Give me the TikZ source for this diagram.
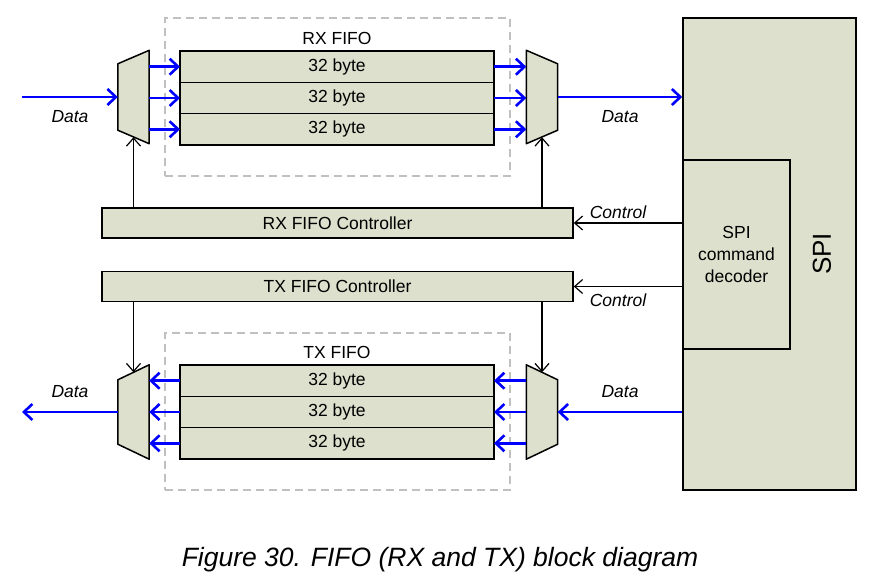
\documentclass[tikz,border=0pt]{standalone}
\usepackage{fontspec}
\setmainfont{Liberation Sans}
\usetikzlibrary{arrows.meta, positioning, calc, backgrounds}
\definecolor{blockfill}{RGB}{221,224,204}
\definecolor{datablue}{RGB}{0,0,255}
\definecolor{framegray}{RGB}{192,192,192}
\tikzset{
  block/.style     = {draw=black, line width=1.5pt, fill=blockfill, inner sep=0pt,
                      font=\fontsize{17.5}{22}\selectfont},
  row/.style       = {block, fill=none, outer sep=0pt, minimum width=314pt, minimum height=31.3pt},
  ctrlbox/.style   = {block, minimum width=471pt, minimum height=30pt},
  muxbox/.style    = {inner sep=0pt, minimum width=31pt, minimum height=93pt},
  muxshape/.style  = {draw=black, line width=1.5pt, fill=blockfill, line join=round},
  fifoframe/.style = {draw=framegray, line width=1.8pt, dash pattern=on 8pt off 5pt,
                      minimum width=345pt, minimum height=158pt, inner sep=0pt},
  dataarrow/.style = {-{Straight Barb[length=8.5pt, width=16pt]}, datablue, line width=2.6pt},
  ctrlarrow/.style = {-{Straight Barb[length=8pt, width=14pt]}, black, line width=1.2pt},
  lbl/.style       = {font=\fontsize{17.5}{22}\selectfont\itshape, inner sep=0pt},
  title/.style     = {font=\fontsize{17.5}{22}\selectfont, inner sep=0pt},
}

\begin{document}
\begin{tikzpicture}[x=1pt, y=-1pt]
\useasboundingbox (0,0) rectangle (877,584);

% RX FIFO
\node[fifoframe] (rxframe) at (337.5,97) {};
\node[title] (rxtitle) at (337,38) {RX FIFO};
\node[row] (rx1) at (337,66.7) {32 byte};
\node[row, below=0pt of rx1] (rx2) {32 byte};
\node[row, below=0pt of rx2] (rx3) {32 byte};

% TX FIFO
\node[fifoframe, minimum height=157pt] (txframe) at (337.5,411.5) {};
\node[title] (txtitle) at (337,352) {TX FIFO};
\node[row] (tx1) at (337,380.7) {32 byte};
\node[row, below=0pt of tx1] (tx2) {32 byte};
\node[row, below=0pt of tx2] (tx3) {32 byte};

\begin{scope}[on background layer]
  \fill[blockfill] (rx1.north west) rectangle (rx3.south east);
  \fill[blockfill] (tx1.north west) rectangle (tx3.south east);
\end{scope}

% controllers
\node[ctrlbox] (rxctrl) at (337.5,223) {RX FIFO Controller};
\node[ctrlbox] (txctrl) at (337.5,286.5) {TX FIFO Controller};

% SPI
\node[block, minimum width=173pt, minimum height=472pt] (spi) at (769.5,254) {};
\node[rotate=90, font=\fontsize{26}{30}\selectfont, inner sep=0pt] (spilabel) at (822,254) {SPI};
\node[block, minimum width=107pt, minimum height=189pt, align=center] (decoder) at (736.5,254.5) {SPI\\command\\decoder};

% muxes
\node[muxbox] (rxmuxL) at (133.5,97) {};
\node[muxbox] (rxmuxR) at (542,97) {};
\node[muxbox, minimum height=94pt] (txmuxL) at (133.5,412) {};
\node[muxbox, minimum height=94pt] (txmuxR) at (542,412) {};
\draw[muxshape] (rxmuxL.north east) -- (rxmuxL.south east) -- ($(rxmuxL.south west)+(0,-13.5)$) -- ($(rxmuxL.north west)+(0,13.5)$) -- cycle;
\draw[muxshape] (rxmuxR.north west) -- (rxmuxR.south west) -- ($(rxmuxR.south east)+(0,-13.5)$) -- ($(rxmuxR.north east)+(0,13.5)$) -- cycle;
\draw[muxshape] (txmuxL.north east) -- (txmuxL.south east) -- ($(txmuxL.south west)+(0,-15)$) -- ($(txmuxL.north west)+(0,15)$) -- cycle;
\draw[muxshape] (txmuxR.north west) -- (txmuxR.south west) -- ($(txmuxR.south east)+(0,-15)$) -- ($(txmuxR.north east)+(0,15)$) -- cycle;

% data paths
\coordinate (rxin) at (22,97);
\coordinate (txout) at (22,412);
\foreach \r in {rx1,rx2,rx3} {
  \draw[dataarrow] (rxmuxL.east |- \r.west) -- (\r.west);
  \draw[dataarrow] (\r.east) -- (rxmuxR.west |- \r.east);
}
\foreach \r in {tx1,tx2,tx3} {
  \draw[dataarrow] (tx1.west |- \r.west) -- (txmuxL.east |- \r.west);
  \draw[dataarrow] (txmuxR.west |- \r.east) -- (\r.east);
}
\draw[dataarrow] (rxin) -- (rxmuxL.west);
\draw[dataarrow] (rxmuxR.east) -- (spi.west |- rxmuxR.east);
\draw[dataarrow] (spi.west |- txmuxR.east) -- (txmuxR.east);
\draw[dataarrow] (txmuxL.west) -- (txout);

\node[lbl] (rxinlbl) at (70,117) {Data};
\node[lbl] (rxoutlbl) at (620,117) {Data};
\node[lbl] (txoutlbl) at (70,392) {Data};
\node[lbl] (txinlbl) at (620,392) {Data};

% control paths
\draw[ctrlarrow] (rxctrl.north -| rxmuxL) -- ($(rxmuxL.south)+(0,-6.5)$);
\draw[ctrlarrow] (rxctrl.north -| rxmuxR) -- ($(rxmuxR.south)+(0,-6.5)$);
\draw[ctrlarrow] (txctrl.south -| txmuxL) -- ($(txmuxL.north)+(0,7.5)$);
\draw[ctrlarrow] (txctrl.south -| txmuxR) -- ($(txmuxR.north)+(0,7.5)$);
\draw[ctrlarrow] (decoder.west |- rxctrl.east) -- (rxctrl.east);
\draw[ctrlarrow] (decoder.west |- txctrl.east) -- (txctrl.east);
\node[lbl] (rxctrllbl) at (618,212) {Control};
\node[lbl] (txctrllbl) at (618,300) {Control};

% caption
\node[font=\fontsize{26.5}{30}\selectfont\itshape, inner sep=0pt] (caption) at (440,560) {Figure 30. FIFO (RX and TX) block diagram};
\end{tikzpicture}
\end{document}
